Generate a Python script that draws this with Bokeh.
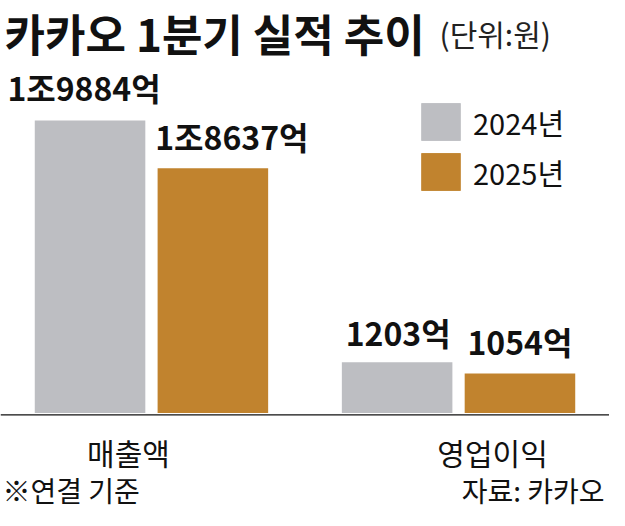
from bokeh.plotting import figure
from bokeh.models import FactorRange, Range1d, Span, Label, Legend, LegendItem
from bokeh.core.properties import value
from bokeh.embed import file_html
from bokeh.resources import INLINE

# ---------------- data ----------------
categories = ["매출액", "영업이익"]
years = ["2024년", "2025년"]
sales = [19884, 18637]          # 억원
op_income = [1203, 1054]        # 억원
sales_labels = ["1조9884억", "1조8637억"]
op_labels = ["1203억", "1054억"]
title_text = "카카오 1분기 실적 추이"
unit_text = "(단위:원)"
note_text = "※연결 기준"
source_text = "자료: 카카오"

# ---------------- layout / style ----------------
W, H = 609, 510
FONT_NAME = "Noto Sans CJK KR"
FONT = value(FONT_NAME)
GRAY = "#BDBEC2"
ORANGE = "#C1832E"
COLORS = [GRAY, ORANGE]
INK = "#111111"

# truncated (illustrative) value scales, one per category
SALES_BASE, SALES_PX = 12240, 0.03827   # baseline value, pixels per 억
OP_BASE, OP_PX = 533, 0.07582
BASE_FROM_BOTTOM = 97.5                  # px from frame bottom to bar baseline

def yrange(base, px):
    start = base - BASE_FROM_BOTTOM / px
    return Range1d(start=start, end=start + H / px)

x_range = FactorRange(factors=[(c, y) for c in categories for y in years],
                      factor_padding=0, group_padding=0.5,
                      range_padding=0.229, range_padding_units="absolute")

p = figure(width=W, height=H, x_range=x_range, y_range=yrange(SALES_BASE, SALES_PX),
           output_backend="svg", toolbar_location=None,
           x_axis_location=None, y_axis_location=None, min_border=0)
p.extra_y_ranges = {"op": yrange(OP_BASE, OP_PX)}
p.xgrid.visible = False
p.ygrid.visible = False
p.outline_line_color = None
p.background_fill_color = "white"
p.border_fill_color = "white"

# baseline rule
p.add_layout(Span(location=SALES_BASE - 1.8 / SALES_PX, dimension="width",
                  line_color=INK, line_width=1.3))

LABEL_DX = [[-6, 19], [1, 0]]
LABEL_DY = [[-33, -32], [-30, -32]]
CAT_DX = [-23, 34]

renderers = {y: [] for y in years}
groups = [(categories[0], sales, sales_labels, SALES_BASE, "default"),
          (categories[1], op_income, op_labels, OP_BASE, "op")]
for gi, (cat, vals, labs, base, rname) in enumerate(groups):
    for i, yr in enumerate(years):
        r = p.vbar(x=[(cat, yr)], top=[vals[i]], bottom=base, width=0.9,
                   fill_color=COLORS[i], line_color=None, y_range_name=rname)
        renderers[yr].append(r)
        p.text(x=[(cat, yr)], y=[vals[i]], text=[labs[i]], y_range_name=rname,
               text_align="center", text_baseline="middle",
               x_offset=LABEL_DX[gi][i], y_offset=LABEL_DY[gi][i],
               text_font=FONT, text_font_style="bold", text_font_size="32px",
               text_color=INK)
    # category label
    p.text(x=[cat], y=[base], text=[cat], y_range_name=rname,
           text_align="center", text_baseline="middle",
           x_offset=CAT_DX[gi], y_offset=38.5,
           text_font=FONT, text_font_size="30px", text_color=INK)

legend = Legend(items=[LegendItem(label=yr, renderers=renderers[yr]) for yr in years],
                location=(416, 315), orientation="vertical",
                glyph_width=49, glyph_height=47, label_height=47, spacing=3,
                label_standoff=8, padding=0, margin=0,
                border_line_color=None, background_fill_alpha=0,
                label_text_font=FONT_NAME, label_text_font_size="29px",
                label_text_baseline="middle", label_text_color=INK)
p.add_layout(legend)

def label(x, ycenter, text, size, bold=False, align="left", color=INK):
    p.add_layout(Label(x=x, y=H - ycenter, x_units="screen", y_units="screen",
                       text=text, text_font=FONT_NAME, text_font_size=size,
                       text_font_style="bold" if bold else "normal",
                       text_align=align, text_baseline="middle", text_color=color))

label(4, 32, title_text, "44px", bold=True)
label(439, 32, unit_text, "30px", color="#222222")
label(2, 489, note_text, "28px")
label(604, 489, source_text, "28px", align="right")

open("out.html", "w").write(file_html(p, INLINE))
